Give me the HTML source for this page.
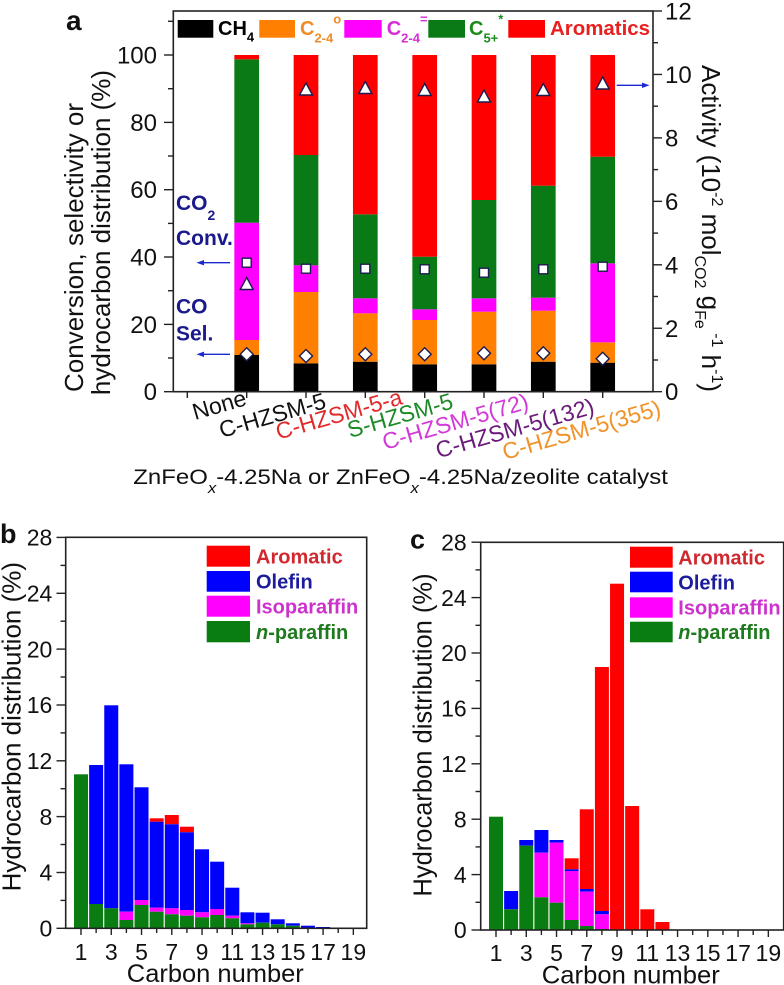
<!DOCTYPE html>
<html><head><meta charset="utf-8"><style>
html,body{margin:0;padding:0;background:#fff;}
svg{display:block;}
text{font-family:"Liberation Sans",Arial,sans-serif;}
</style></head><body>
<svg width="784" height="985" viewBox="0 0 784 985" xmlns="http://www.w3.org/2000/svg">
<rect width="784" height="985" fill="#fff"/>

<!-- ============ PANEL A ============ -->
<g>
<g>
<rect x="234.35" y="355" width="24.7" height="36.7" fill="#000"/>
<rect x="234.35" y="340" width="24.7" height="15" fill="#ff8000"/>
<rect x="234.35" y="222.7" width="24.7" height="117.3" fill="#ff00ff"/>
<rect x="234.35" y="59.3" width="24.7" height="163.4" fill="#0a7a16"/>
<rect x="234.35" y="55" width="24.7" height="4.3" fill="#ff0000"/>

<rect x="293.65" y="363.3" width="24.7" height="28.4" fill="#000"/>
<rect x="293.65" y="292" width="24.7" height="71.3" fill="#ff8000"/>
<rect x="293.65" y="265.3" width="24.7" height="26.7" fill="#ff00ff"/>
<rect x="293.65" y="155" width="24.7" height="110.3" fill="#0a7a16"/>
<rect x="293.65" y="55" width="24.7" height="100" fill="#ff0000"/>

<rect x="352.95" y="361.7" width="24.7" height="30" fill="#000"/>
<rect x="352.95" y="313.3" width="24.7" height="48.4" fill="#ff8000"/>
<rect x="352.95" y="298.3" width="24.7" height="15" fill="#ff00ff"/>
<rect x="352.95" y="214.3" width="24.7" height="84" fill="#0a7a16"/>
<rect x="352.95" y="55" width="24.7" height="159.3" fill="#ff0000"/>

<rect x="412.35" y="364.3" width="24.7" height="27.4" fill="#000"/>
<rect x="412.35" y="320" width="24.7" height="44.3" fill="#ff8000"/>
<rect x="412.35" y="309.3" width="24.7" height="10.7" fill="#ff00ff"/>
<rect x="412.35" y="256.7" width="24.7" height="52.6" fill="#0a7a16"/>
<rect x="412.35" y="55" width="24.7" height="201.7" fill="#ff0000"/>

<rect x="471.65" y="364.3" width="24.7" height="27.4" fill="#000"/>
<rect x="471.65" y="311.7" width="24.7" height="52.6" fill="#ff8000"/>
<rect x="471.65" y="298.3" width="24.7" height="13.4" fill="#ff00ff"/>
<rect x="471.65" y="200" width="24.7" height="98.3" fill="#0a7a16"/>
<rect x="471.65" y="55" width="24.7" height="145" fill="#ff0000"/>

<rect x="530.95" y="361.7" width="24.7" height="30" fill="#000"/>
<rect x="530.95" y="310.7" width="24.7" height="51" fill="#ff8000"/>
<rect x="530.95" y="297.7" width="24.7" height="13" fill="#ff00ff"/>
<rect x="530.95" y="185.7" width="24.7" height="112" fill="#0a7a16"/>
<rect x="530.95" y="55" width="24.7" height="130.7" fill="#ff0000"/>

<rect x="590.35" y="362.7" width="24.7" height="29" fill="#000"/>
<rect x="590.35" y="342.3" width="24.7" height="20.4" fill="#ff8000"/>
<rect x="590.35" y="263.3" width="24.7" height="79" fill="#ff00ff"/>
<rect x="590.35" y="156.7" width="24.7" height="106.6" fill="#0a7a16"/>
<rect x="590.35" y="55" width="24.7" height="101.7" fill="#ff0000"/>
</g>

<g fill="#fff" stroke="#1c1c50" stroke-width="1.4">
<rect x="242.2" y="258.2" width="9" height="9"/>
<rect x="301.5" y="264.2" width="9" height="9"/>
<rect x="360.8" y="264.2" width="9" height="9"/>
<rect x="420.2" y="264.8" width="9" height="9"/>
<rect x="479.5" y="268.2" width="9" height="9"/>
<rect x="538.8" y="264.8" width="9" height="9"/>
<rect x="598.2" y="262.2" width="9" height="9"/>
<polygon points="246.7,277.5 240.2,289.5 253.2,289.5"/>
<polygon points="306,83 299.5,95 312.5,95"/>
<polygon points="365.3,81.5 358.8,93.5 371.8,93.5"/>
<polygon points="424.7,83.5 418.2,95.5 431.2,95.5"/>
<polygon points="484,90 477.5,102 490.5,102"/>
<polygon points="543.3,83.5 536.8,95.5 549.8,95.5"/>
<polygon points="602.7,77 596.2,89 609.2,89"/>
<polygon points="246.7,347.8 253.2,354.3 246.7,360.8 240.2,354.3"/>
<polygon points="306,349.5 312.5,356 306,362.5 299.5,356"/>
<polygon points="365.3,347.8 371.8,354.3 365.3,360.8 358.8,354.3"/>
<polygon points="424.7,347.8 431.2,354.3 424.7,360.8 418.2,354.3"/>
<polygon points="484,346.8 490.5,353.3 484,359.8 477.5,353.3"/>
<polygon points="543.3,346.8 549.8,353.3 543.3,359.8 536.8,353.3"/>
<polygon points="602.7,352.2 609.2,358.7 602.7,365.2 596.2,358.7"/>
</g>

<g stroke="#1a2ad0" stroke-width="1.3" fill="#1a2ad0">
<line x1="230" y1="262.7" x2="202" y2="262.7"/>
<polygon points="196.5,262.7 204,260 204,265.4" stroke="none"/>
<line x1="230" y1="354.3" x2="202" y2="354.3"/>
<polygon points="196.5,354.3 204,351.6 204,357" stroke="none"/>
<line x1="616.7" y1="85.3" x2="643" y2="85.3"/>
<polygon points="649.5,85.3 642,82.6 642,88" stroke="none"/>
</g>

<g fill="#1a1a8c" font-weight="bold" font-size="21">
<text x="176" y="210">CO<tspan font-size="14" dy="10">2</tspan></text>
<text x="176" y="245">Conv.</text>
<text x="176" y="313.3">CO</text>
<text x="176" y="340.7">Sel.</text>
</g>

<rect x="177.7" y="20" width="35.6" height="17.7" fill="#000"/>
<rect x="259.3" y="20" width="35.7" height="17.7" fill="#ff8000"/>
<rect x="344.3" y="20" width="37.4" height="17.7" fill="#ff00ff"/>
<rect x="428.3" y="20" width="36.7" height="17.7" fill="#0a7a16"/>
<rect x="508.3" y="20" width="36.7" height="17.7" fill="#ff0000"/>
<g font-weight="bold" font-size="20">
<text x="218" y="35" fill="#000">CH<tspan font-size="13" dy="6.5">4</tspan></text>
<text x="300" y="35" fill="#f08c28">C<tspan font-size="13" dy="7.5">2-4</tspan><tspan font-size="13" dy="-19">o</tspan></text>
<text x="386.7" y="35" fill="#d62ed6">C<tspan font-size="13" dy="7.5">2-4</tspan><tspan font-size="13" dy="-19">=</tspan></text>
<text x="469" y="35" fill="#1d8a1d">C<tspan font-size="13" dy="7.5">5+</tspan><tspan font-size="13" dy="-19">*</tspan></text>
<text x="550" y="35" fill="#e82020" textLength="100" lengthAdjust="spacingAndGlyphs">Aromatics</text>
</g>

<rect x="173.3" y="11" width="479.7" height="380.7" fill="none" stroke="#222" stroke-width="1.6"/>
<g stroke="#222" stroke-width="1.4">
<line x1="164" y1="391.7" x2="173.3" y2="391.7"/>
<line x1="164" y1="324.4" x2="173.3" y2="324.4"/>
<line x1="164" y1="257" x2="173.3" y2="257"/>
<line x1="164" y1="189.7" x2="173.3" y2="189.7"/>
<line x1="164" y1="122.4" x2="173.3" y2="122.4"/>
<line x1="164" y1="55" x2="173.3" y2="55"/>
<line x1="168" y1="358" x2="173.3" y2="358"/>
<line x1="168" y1="290.7" x2="173.3" y2="290.7"/>
<line x1="168" y1="223.4" x2="173.3" y2="223.4"/>
<line x1="168" y1="156" x2="173.3" y2="156"/>
<line x1="168" y1="88.7" x2="173.3" y2="88.7"/>
<line x1="168" y1="21.3" x2="173.3" y2="21.3"/>
<line x1="653" y1="391.7" x2="662" y2="391.7"/>
<line x1="653" y1="328.25" x2="662" y2="328.25"/>
<line x1="653" y1="264.8" x2="662" y2="264.8"/>
<line x1="653" y1="201.35" x2="662" y2="201.35"/>
<line x1="653" y1="137.9" x2="662" y2="137.9"/>
<line x1="653" y1="74.45" x2="662" y2="74.45"/>
<line x1="653" y1="11" x2="662" y2="11"/>
<line x1="653" y1="360" x2="658" y2="360"/>
<line x1="653" y1="296.5" x2="658" y2="296.5"/>
<line x1="653" y1="233.1" x2="658" y2="233.1"/>
<line x1="653" y1="169.6" x2="658" y2="169.6"/>
<line x1="653" y1="106.2" x2="658" y2="106.2"/>
<line x1="653" y1="42.7" x2="658" y2="42.7"/>
<line x1="187.3" y1="391.7" x2="187.3" y2="398"/>
<line x1="246.7" y1="391.7" x2="246.7" y2="398"/>
<line x1="306" y1="391.7" x2="306" y2="398"/>
<line x1="365.3" y1="391.7" x2="365.3" y2="398"/>
<line x1="424.7" y1="391.7" x2="424.7" y2="398"/>
<line x1="484" y1="391.7" x2="484" y2="398"/>
<line x1="543.3" y1="391.7" x2="543.3" y2="398"/>
<line x1="602.7" y1="391.7" x2="602.7" y2="398"/>
</g>

<g font-size="24" fill="#111" text-anchor="end">
<text x="157" y="400.2">0</text>
<text x="157" y="332.9">20</text>
<text x="157" y="265.5">40</text>
<text x="157" y="198.2">60</text>
<text x="157" y="130.9">80</text>
<text x="157" y="63.5">100</text>
</g>
<g font-size="24" fill="#111">
<text x="665" y="400.2">0</text>
<text x="665" y="336.75">2</text>
<text x="665" y="273.3">4</text>
<text x="665" y="209.85">6</text>
<text x="665" y="146.4">8</text>
<text x="665" y="82.95">10</text>
<text x="665" y="19.5">12</text>
</g>

<g font-size="26" fill="#111" text-anchor="middle">
<text transform="translate(83,247.5) rotate(-90)">Conversion, selectivity or</text>
<text transform="translate(110,232.5) rotate(-90)">hydrocarbon distribution (%)</text>
</g>
<text transform="translate(702,65) rotate(90)" font-size="26" fill="#111">Activity (10<tspan font-size="16" dy="-10">-2</tspan><tspan dy="10"> mol</tspan><tspan font-size="16" dy="7">CO2</tspan><tspan dy="-7"> g</tspan><tspan font-size="16" dy="7">Fe</tspan><tspan font-size="16" dy="-17"> -1</tspan><tspan dy="10"> h</tspan><tspan font-size="16" dy="-10">-1</tspan><tspan dy="10">)</tspan></text>

<g font-size="23" text-anchor="middle">
<text transform="translate(221.4,412.4) rotate(-16)" fill="#111">None</text>
<text transform="translate(274.5,422.9) rotate(-16)" fill="#111">C-HZSM-5</text>
<text transform="translate(341,421.8) rotate(-16)" fill="#e02a2a">C-HZSM-5-a</text>
<text transform="translate(402.2,423) rotate(-16)" fill="#1e8a28">S-HZSM-5</text>
<text transform="translate(457.5,429.2) rotate(-16)" fill="#d23ad8">C-HZSM-5(72)</text>
<text transform="translate(517,435.8) rotate(-16)" fill="#6a1b7a">C-HZSM-5(132)</text>
<text transform="translate(583.6,437.5) rotate(-16)" fill="#f0932a">C-HZSM-5(355)</text>
</g>

<text transform="translate(133.3,484) scale(1.115,1)" font-size="21.5" fill="#111">ZnFeO<tspan font-size="15" font-style="italic" dy="9">x</tspan><tspan dy="-9">-4.25Na or ZnFeO</tspan><tspan font-size="15" font-style="italic" dy="9">x</tspan><tspan dy="-9">-4.25Na/zeolite catalyst</tspan></text>

<text x="66" y="30" font-size="28" font-weight="bold" fill="#111">a</text>
</g>

<!-- ============ PANEL B ============ -->
<g>
<g>
<rect x="74" y="774.3" width="14" height="154" fill="#0a7d12"/>
<rect x="89.13" y="765" width="14" height="139" fill="#0000ff"/>
<rect x="89.13" y="904" width="14" height="24.3" fill="#0a7d12"/>
<rect x="104.26" y="705.3" width="14" height="203" fill="#0000ff"/>
<rect x="104.26" y="908.3" width="14" height="20" fill="#0a7d12"/>
<rect x="119.39" y="764.3" width="14" height="147.4" fill="#0000ff"/>
<rect x="119.39" y="911.7" width="14" height="8.3" fill="#ff00ff"/>
<rect x="119.39" y="920" width="14" height="8.3" fill="#0a7d12"/>
<rect x="134.52" y="787.3" width="14" height="112.7" fill="#0000ff"/>
<rect x="134.52" y="900" width="14" height="5" fill="#ff00ff"/>
<rect x="134.52" y="905" width="14" height="23.3" fill="#0a7d12"/>
<rect x="149.65" y="818.3" width="14" height="3.4" fill="#ff0000"/>
<rect x="149.65" y="821.7" width="14" height="86" fill="#0000ff"/>
<rect x="149.65" y="907.7" width="14" height="4" fill="#ff00ff"/>
<rect x="149.65" y="911.7" width="14" height="16.6" fill="#0a7d12"/>
<rect x="164.78" y="815" width="14" height="9.3" fill="#ff0000"/>
<rect x="164.78" y="824.3" width="14" height="84" fill="#0000ff"/>
<rect x="164.78" y="908.3" width="14" height="6" fill="#ff00ff"/>
<rect x="164.78" y="914.3" width="14" height="14" fill="#0a7d12"/>
<rect x="179.91" y="826.7" width="14" height="5.6" fill="#ff0000"/>
<rect x="179.91" y="832.3" width="14" height="77.7" fill="#0000ff"/>
<rect x="179.91" y="910" width="14" height="5.7" fill="#ff00ff"/>
<rect x="179.91" y="915.7" width="14" height="12.6" fill="#0a7d12"/>
<rect x="195.04" y="849.3" width="14" height="63" fill="#0000ff"/>
<rect x="195.04" y="912.3" width="14" height="5" fill="#ff00ff"/>
<rect x="195.04" y="917.3" width="14" height="11" fill="#0a7d12"/>
<rect x="210.17" y="861.7" width="14" height="47.3" fill="#0000ff"/>
<rect x="210.17" y="909" width="14" height="6" fill="#ff00ff"/>
<rect x="210.17" y="915" width="14" height="13.3" fill="#0a7d12"/>
<rect x="225.3" y="887.7" width="14" height="28" fill="#0000ff"/>
<rect x="225.3" y="915.7" width="14" height="2.6" fill="#ff00ff"/>
<rect x="225.3" y="918.3" width="14" height="10" fill="#0a7d12"/>
<rect x="240.43" y="912.3" width="14" height="11" fill="#0000ff"/>
<rect x="240.43" y="923.3" width="14" height="1" fill="#ff00ff"/>
<rect x="240.43" y="924.3" width="14" height="4" fill="#0a7d12"/>
<rect x="255.56" y="912.7" width="14" height="10" fill="#0000ff"/>
<rect x="255.56" y="922.7" width="14" height="5.6" fill="#0a7d12"/>
<rect x="270.69" y="919.3" width="14" height="5" fill="#0000ff"/>
<rect x="270.69" y="924.3" width="14" height="4" fill="#0a7d12"/>
<rect x="285.82" y="923.3" width="14" height="2.4" fill="#0000ff"/>
<rect x="285.82" y="925.7" width="14" height="2.6" fill="#0a7d12"/>
<rect x="300.95" y="925.7" width="14" height="2.6" fill="#0000ff"/>
<rect x="316.08" y="927" width="14" height="1.3" fill="#0000ff"/>
</g>
<rect x="206.7" y="545.7" width="43.3" height="21" fill="#ff0000"/>
<rect x="206.7" y="571" width="43.3" height="20.7" fill="#0000ff"/>
<rect x="206.7" y="595.7" width="43.3" height="21" fill="#ff00ff"/>
<rect x="206.7" y="621" width="43.3" height="21.3" fill="#0a7d12"/>
<g font-size="20" font-weight="bold">
<text x="256" y="563.5" fill="#d0282e">Aromatic</text>
<text x="256" y="588.5" fill="#1c1c9c">Olefin</text>
<text x="256" y="613.5" fill="#cc33cc">Isoparaffin</text>
<text x="256" y="639" fill="#1f7a1f"><tspan font-style="italic">n</tspan>-paraffin</text>
</g>
<rect x="65.7" y="537.3" width="301" height="391" fill="none" stroke="#222" stroke-width="1.6"/>
<g stroke="#222" stroke-width="1.4">
<line x1="56.5" y1="928.3" x2="65.7" y2="928.3"/>
<line x1="56.5" y1="872.5" x2="65.7" y2="872.5"/>
<line x1="56.5" y1="816.6" x2="65.7" y2="816.6"/>
<line x1="56.5" y1="760.8" x2="65.7" y2="760.8"/>
<line x1="56.5" y1="705" x2="65.7" y2="705"/>
<line x1="56.5" y1="649.1" x2="65.7" y2="649.1"/>
<line x1="56.5" y1="593.3" x2="65.7" y2="593.3"/>
<line x1="56.5" y1="537.4" x2="65.7" y2="537.4"/>
<line x1="60.5" y1="900.4" x2="65.7" y2="900.4"/>
<line x1="60.5" y1="844.5" x2="65.7" y2="844.5"/>
<line x1="60.5" y1="788.7" x2="65.7" y2="788.7"/>
<line x1="60.5" y1="732.9" x2="65.7" y2="732.9"/>
<line x1="60.5" y1="677" x2="65.7" y2="677"/>
<line x1="60.5" y1="621.2" x2="65.7" y2="621.2"/>
<line x1="60.5" y1="565.4" x2="65.7" y2="565.4"/>
</g>
<g stroke="#222" stroke-width="1.4">
<line x1="81" y1="928.3" x2="81" y2="935"/>
<line x1="96.13" y1="928.3" x2="96.13" y2="933"/>
<line x1="111.26" y1="928.3" x2="111.26" y2="935"/>
<line x1="126.39" y1="928.3" x2="126.39" y2="933"/>
<line x1="141.52" y1="928.3" x2="141.52" y2="935"/>
<line x1="156.65" y1="928.3" x2="156.65" y2="933"/>
<line x1="171.78" y1="928.3" x2="171.78" y2="935"/>
<line x1="186.91" y1="928.3" x2="186.91" y2="933"/>
<line x1="202.04" y1="928.3" x2="202.04" y2="935"/>
<line x1="217.17" y1="928.3" x2="217.17" y2="933"/>
<line x1="232.3" y1="928.3" x2="232.3" y2="935"/>
<line x1="247.43" y1="928.3" x2="247.43" y2="933"/>
<line x1="262.56" y1="928.3" x2="262.56" y2="935"/>
<line x1="277.69" y1="928.3" x2="277.69" y2="933"/>
<line x1="292.82" y1="928.3" x2="292.82" y2="935"/>
<line x1="307.95" y1="928.3" x2="307.95" y2="933"/>
<line x1="323.08" y1="928.3" x2="323.08" y2="935"/>
<line x1="338.21" y1="928.3" x2="338.21" y2="933"/>
<line x1="353.34" y1="928.3" x2="353.34" y2="935"/>
</g>
<g font-size="23" fill="#111" text-anchor="end">
<text x="52.3" y="936.5">0</text>
<text x="52.3" y="880.7">4</text>
<text x="52.3" y="824.8">8</text>
<text x="52.3" y="769">12</text>
<text x="52.3" y="713.2">16</text>
<text x="52.3" y="657.3">20</text>
<text x="52.3" y="601.5">24</text>
<text x="52.3" y="545.6">28</text>
</g>
<g font-size="23" fill="#111" text-anchor="middle">
<text x="81" y="960">1</text>
<text x="111.26" y="960">3</text>
<text x="141.52" y="960">5</text>
<text x="171.78" y="960">7</text>
<text x="202.04" y="960">9</text>
<text x="232.3" y="960">11</text>
<text x="262.56" y="960">13</text>
<text x="292.82" y="960">15</text>
<text x="323.08" y="960">17</text>
<text x="353.34" y="960">19</text>
</g>
<text x="215.3" y="982" font-size="25" fill="#111" text-anchor="middle" textLength="177" lengthAdjust="spacingAndGlyphs">Carbon number</text>
<text transform="translate(20.5,726.7) rotate(-90)" font-size="26" fill="#111" text-anchor="middle">Hydrocarbon distribution (%)</text>
<text x="0" y="543" font-size="27" font-weight="bold" fill="#111">b</text>
</g>

<!-- ============ PANEL C ============ -->
<g>
<g>
<rect x="489" y="816.7" width="14" height="113.3" fill="#0a7d12"/>
<rect x="504.13" y="891" width="14" height="18.3" fill="#0000ff"/>
<rect x="504.13" y="909.3" width="14" height="20.7" fill="#0a7d12"/>
<rect x="519.26" y="840" width="14" height="5.7" fill="#0000ff"/>
<rect x="519.26" y="845.7" width="14" height="84.3" fill="#0a7d12"/>
<rect x="534.39" y="830" width="14" height="22.7" fill="#0000ff"/>
<rect x="534.39" y="852.7" width="14" height="44.6" fill="#ff00ff"/>
<rect x="534.39" y="897.3" width="14" height="32.7" fill="#0a7d12"/>
<rect x="549.52" y="840" width="14" height="2.7" fill="#0000ff"/>
<rect x="549.52" y="842.7" width="14" height="60" fill="#ff00ff"/>
<rect x="549.52" y="902.7" width="14" height="27.3" fill="#0a7d12"/>
<rect x="564.65" y="858.3" width="14" height="11" fill="#ff0000"/>
<rect x="564.65" y="869.3" width="14" height="1.7" fill="#0000ff"/>
<rect x="564.65" y="871" width="14" height="49" fill="#ff00ff"/>
<rect x="564.65" y="920" width="14" height="10" fill="#0a7d12"/>
<rect x="579.78" y="809.3" width="14" height="79.7" fill="#ff0000"/>
<rect x="579.78" y="889" width="14" height="2.7" fill="#0000ff"/>
<rect x="579.78" y="891.7" width="14" height="34.3" fill="#ff00ff"/>
<rect x="579.78" y="926" width="14" height="4" fill="#0a7d12"/>
<rect x="594.91" y="667" width="14" height="244" fill="#ff0000"/>
<rect x="594.91" y="911" width="14" height="3.3" fill="#0000ff"/>
<rect x="594.91" y="914.3" width="14" height="14.7" fill="#ff00ff"/>
<rect x="594.91" y="929" width="14" height="1" fill="#0a7d12"/>
<rect x="610.04" y="583.7" width="14" height="346.3" fill="#ff0000"/>
<rect x="625.17" y="806" width="14" height="124" fill="#ff0000"/>
<rect x="640.3" y="909.3" width="14" height="20.7" fill="#ff0000"/>
<rect x="655.43" y="922" width="14" height="8" fill="#ff0000"/>
</g>
<rect x="630" y="546.7" width="42.7" height="21" fill="#ff0000"/>
<rect x="630" y="571.7" width="42.7" height="20.6" fill="#0000ff"/>
<rect x="630" y="597.3" width="42.7" height="20.4" fill="#ff00ff"/>
<rect x="630" y="621.7" width="42.7" height="20.6" fill="#0a7d12"/>
<g font-size="20" font-weight="bold">
<text x="678.3" y="564.5" fill="#d0282e">Aromatic</text>
<text x="678.3" y="589.3" fill="#1c1c9c">Olefin</text>
<text x="678.3" y="614.5" fill="#cc33cc">Isoparaffin</text>
<text x="678.3" y="639" fill="#1f7a1f"><tspan font-style="italic">n</tspan>-paraffin</text>
</g>
<rect x="480.7" y="542.3" width="303" height="387.7" fill="none" stroke="#222" stroke-width="1.6"/>
<g stroke="#222" stroke-width="1.4">
<line x1="471.5" y1="930" x2="480.7" y2="930"/>
<line x1="471.5" y1="874.6" x2="480.7" y2="874.6"/>
<line x1="471.5" y1="819.2" x2="480.7" y2="819.2"/>
<line x1="471.5" y1="763.8" x2="480.7" y2="763.8"/>
<line x1="471.5" y1="708.4" x2="480.7" y2="708.4"/>
<line x1="471.5" y1="653" x2="480.7" y2="653"/>
<line x1="471.5" y1="597.6" x2="480.7" y2="597.6"/>
<line x1="471.5" y1="542.2" x2="480.7" y2="542.2"/>
<line x1="475.5" y1="902.3" x2="480.7" y2="902.3"/>
<line x1="475.5" y1="846.9" x2="480.7" y2="846.9"/>
<line x1="475.5" y1="791.5" x2="480.7" y2="791.5"/>
<line x1="475.5" y1="736.1" x2="480.7" y2="736.1"/>
<line x1="475.5" y1="680.7" x2="480.7" y2="680.7"/>
<line x1="475.5" y1="625.3" x2="480.7" y2="625.3"/>
<line x1="475.5" y1="569.9" x2="480.7" y2="569.9"/>
</g>
<g stroke="#222" stroke-width="1.4">
<line x1="496" y1="930" x2="496" y2="937"/>
<line x1="511.13" y1="930" x2="511.13" y2="935"/>
<line x1="526.26" y1="930" x2="526.26" y2="937"/>
<line x1="541.39" y1="930" x2="541.39" y2="935"/>
<line x1="556.52" y1="930" x2="556.52" y2="937"/>
<line x1="571.65" y1="930" x2="571.65" y2="935"/>
<line x1="586.78" y1="930" x2="586.78" y2="937"/>
<line x1="601.91" y1="930" x2="601.91" y2="935"/>
<line x1="617.04" y1="930" x2="617.04" y2="937"/>
<line x1="632.17" y1="930" x2="632.17" y2="935"/>
<line x1="647.3" y1="930" x2="647.3" y2="937"/>
<line x1="662.43" y1="930" x2="662.43" y2="935"/>
<line x1="677.56" y1="930" x2="677.56" y2="937"/>
<line x1="692.69" y1="930" x2="692.69" y2="935"/>
<line x1="707.82" y1="930" x2="707.82" y2="937"/>
<line x1="722.95" y1="930" x2="722.95" y2="935"/>
<line x1="738.08" y1="930" x2="738.08" y2="937"/>
<line x1="753.21" y1="930" x2="753.21" y2="935"/>
<line x1="768.34" y1="930" x2="768.34" y2="937"/>
</g>
<g font-size="23" fill="#111" text-anchor="end">
<text x="466.7" y="938.2">0</text>
<text x="466.7" y="882.8">4</text>
<text x="466.7" y="827.4">8</text>
<text x="466.7" y="772">12</text>
<text x="466.7" y="716.6">16</text>
<text x="466.7" y="661.2">20</text>
<text x="466.7" y="605.8">24</text>
<text x="466.7" y="550.4">28</text>
</g>
<g font-size="23" fill="#111" text-anchor="middle">
<text x="496" y="961">1</text>
<text x="526.26" y="961">3</text>
<text x="556.52" y="961">5</text>
<text x="586.78" y="961">7</text>
<text x="617.04" y="961">9</text>
<text x="647.3" y="961">11</text>
<text x="677.56" y="961">13</text>
<text x="707.82" y="961">15</text>
<text x="738.08" y="961">17</text>
<text x="768.34" y="961">19</text>
</g>
<text x="630.8" y="983.5" font-size="25" fill="#111" text-anchor="middle" textLength="178" lengthAdjust="spacingAndGlyphs">Carbon number</text>
<text transform="translate(431.5,735) rotate(-90)" font-size="25.5" fill="#111" text-anchor="middle">Hydrocarbon distribution (%)</text>
<text x="410" y="548.3" font-size="27" font-weight="bold" fill="#111">c</text>
</g>
</svg>
</body></html>
